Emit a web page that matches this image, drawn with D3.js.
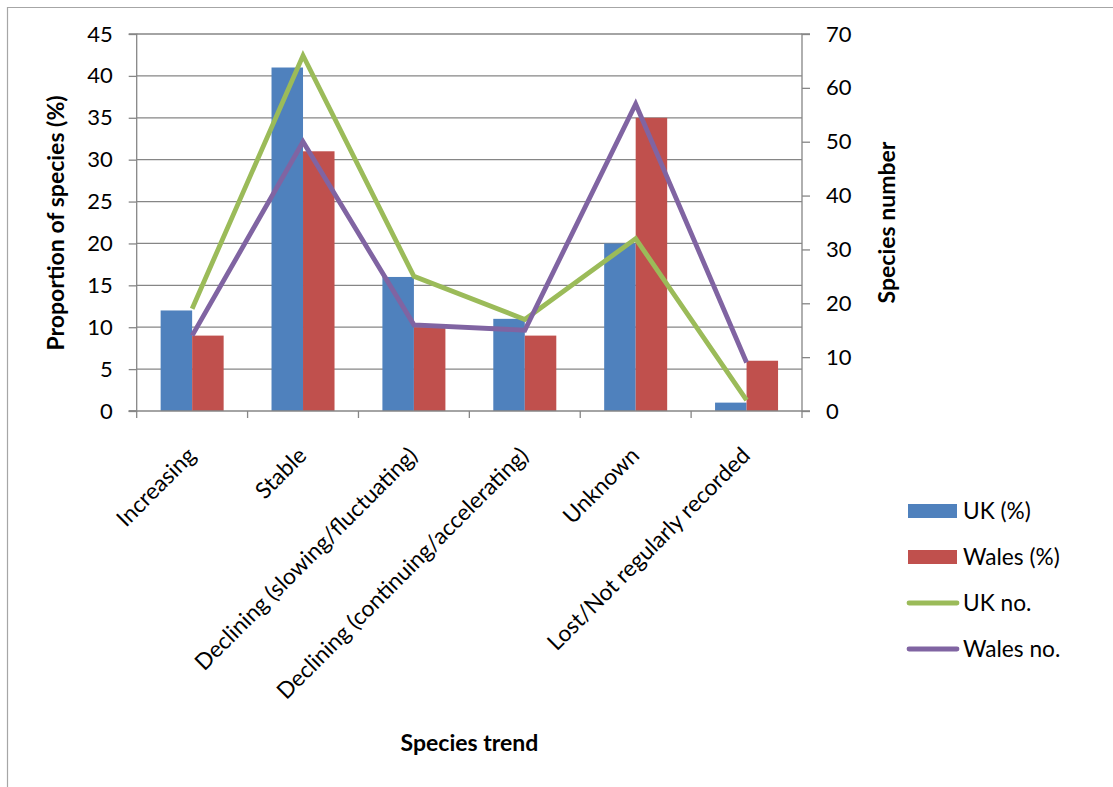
<!DOCTYPE html>
<html><head><meta charset="utf-8">
<script src="https://cdn.jsdelivr.net/npm/d3@7"></script>
<style>
html,body{margin:0;padding:0;background:#fff;}
svg{display:block;font-family:Lato,"Open Sans",sans-serif;}
</style></head>
<body>
<svg id="chart" width="1113" height="787"></svg>
<script>
const categories = ["Increasing","Stable","Declining (slowing/fluctuating)","Declining (continuing/accelerating)","Unknown","Lost/Not regularly recorded"];
const ukPct = [12, 41, 16, 11, 20, 1];
const walesPct = [9, 31, 10, 9, 35, 6];
const ukNo = [19, 66, 25, 17, 32, 2];
const walesNo = [14, 50, 16, 15, 57, 9];
const leftTicks = [0, 5, 10, 15, 20, 25, 30, 35, 40, 45];
const rightTicks = [0, 10, 20, 30, 40, 50, 60, 70];
const seriesNames = ["UK (%)", "Wales (%)", "UK no.", "Wales no."];
const colors = {ukBar:"#4F81BD", walesBar:"#C0504D", ukLine:"#9BBB59", walesLine:"#8064A2"};

const svg = d3.select("#chart");
const L = 136.7, R = 802, T = 34, B = 411;
const grid = "#868686";
const fs = 22.7, fsTick = 22, fsTitle = 23;

// frame
svg.append("path").attr("d", `M7.5,787 L7.5,7.5 L1113,7.5`).attr("fill","none").attr("stroke","#a6a6a6").attr("stroke-width",1.2);

const x = d3.scaleBand().domain(categories).range([L, R]);
const y0 = d3.scaleLinear().domain([0,45]).range([B, T]);
const y1 = d3.scaleLinear().domain([0,70]).range([B, T]);

// gridlines
svg.append("g").selectAll("line").data(leftTicks.filter(d=>d>0)).join("line")
  .attr("x1", L).attr("x2", R).attr("y1", d=>y0(d)).attr("y2", d=>y0(d))
  .attr("stroke", grid).attr("stroke-width", 1.3);

// bars
const bw = 31.5;
const bars = svg.append("g");
categories.forEach((c,i)=>{
  const cx = x(c) + x.bandwidth()/2;
  bars.append("rect").attr("x", cx - bw).attr("width", bw)
    .attr("y", y0(ukPct[i])).attr("height", y0(0)-y0(ukPct[i])).attr("fill", colors.ukBar);
  bars.append("rect").attr("x", cx).attr("width", bw)
    .attr("y", y0(walesPct[i])).attr("height", y0(0)-y0(walesPct[i])).attr("fill", colors.walesBar);
});

// axes
const leftAxis = svg.append("g").attr("transform", `translate(${L},0)`)
  .call(d3.axisLeft(y0).tickValues(leftTicks).tickSize(8).tickPadding(16));
const rightAxis = svg.append("g").attr("transform", `translate(${R},0)`)
  .call(d3.axisRight(y1).tickValues(rightTicks).tickSize(8).tickPadding(16));
[leftAxis, rightAxis].forEach(a=>{
  a.select(".domain").attr("stroke", grid).attr("stroke-width",1.3);
  a.selectAll(".tick line").attr("stroke", grid).attr("stroke-width",1.3);
  a.selectAll(".tick text").attr("fill","#000").attr("font-size",fsTick).attr("font-family","Lato");
});
leftAxis.select(".domain").attr("d", `M-8,${T}H0V${B}H-8`);
rightAxis.select(".domain").attr("d", `M8,${T}H0V${B}H8`);

// x axis line and ticks at band boundaries
const xg = svg.append("g");
xg.append("line").attr("x1", L-8).attr("x2", R).attr("y1", B).attr("y2", B).attr("stroke", grid).attr("stroke-width",1.3);
const bounds = categories.map(c=>x(c)).concat([x(categories[categories.length-1]) + x.bandwidth()]);
xg.selectAll("line.t").data(bounds).join("line").attr("class","t")
  .attr("x1", d=>d).attr("x2", d=>d).attr("y1", B).attr("y2", B+7)
  .attr("stroke", grid).attr("stroke-width",1.3);

// category labels
svg.append("g").selectAll("text").data(categories).join("text")
  .attr("transform", d=>`translate(${x(d)+x.bandwidth()/2+5},${B+46}) rotate(-45)`)
  .attr("text-anchor","end").attr("font-size",fs).attr("fill","#000").text(d=>d);

// lines
const line = d3.line().x((d,i)=>x(categories[i])+x.bandwidth()/2).y(d=>y1(d));
svg.append("path").datum(ukNo).attr("d", line).attr("fill","none")
  .attr("stroke", colors.ukLine).attr("stroke-width",4.8).attr("stroke-linejoin","miter").attr("stroke-miterlimit",10);
svg.append("path").datum(walesNo).attr("d", line).attr("fill","none")
  .attr("stroke", colors.walesLine).attr("stroke-width",4.8).attr("stroke-linejoin","miter").attr("stroke-miterlimit",10);

// axis titles
svg.append("text").attr("transform", `translate(63.5,${(T+B)/2+0.5}) rotate(-90)`)
  .attr("text-anchor","middle").attr("font-size",fsTitle).attr("font-weight","bold").text("Proportion of species (%)");
svg.append("text").attr("transform", `translate(895,${(T+B)/2}) rotate(-90)`)
  .attr("text-anchor","middle").attr("font-size",fsTitle).attr("font-weight","bold").text("Species number");
svg.append("text").attr("x", 469.5).attr("y", 750.5)
  .attr("text-anchor","middle").attr("font-size",fsTitle).attr("font-weight","bold").text("Species trend");

// legend
const lg = svg.append("g");
const legY = [511, 557, 603, 649];
const legColors = [colors.ukBar, colors.walesBar, colors.ukLine, colors.walesLine];
seriesNames.forEach((n,i)=>{
  if (i < 2) {
    lg.append("rect").attr("x", 908).attr("y", legY[i]-7).attr("width", 49).attr("height", 14).attr("fill", legColors[i]);
  } else {
    lg.append("line").attr("x1", 909).attr("x2", 957).attr("y1", legY[i]).attr("y2", legY[i])
      .attr("stroke", legColors[i]).attr("stroke-width",4.8).attr("stroke-linecap","round");
  }
  lg.append("text").attr("x", 963).attr("y", legY[i]).attr("dy","0.35em").attr("font-size",fs).text(n);
});
</script>
</body></html>
